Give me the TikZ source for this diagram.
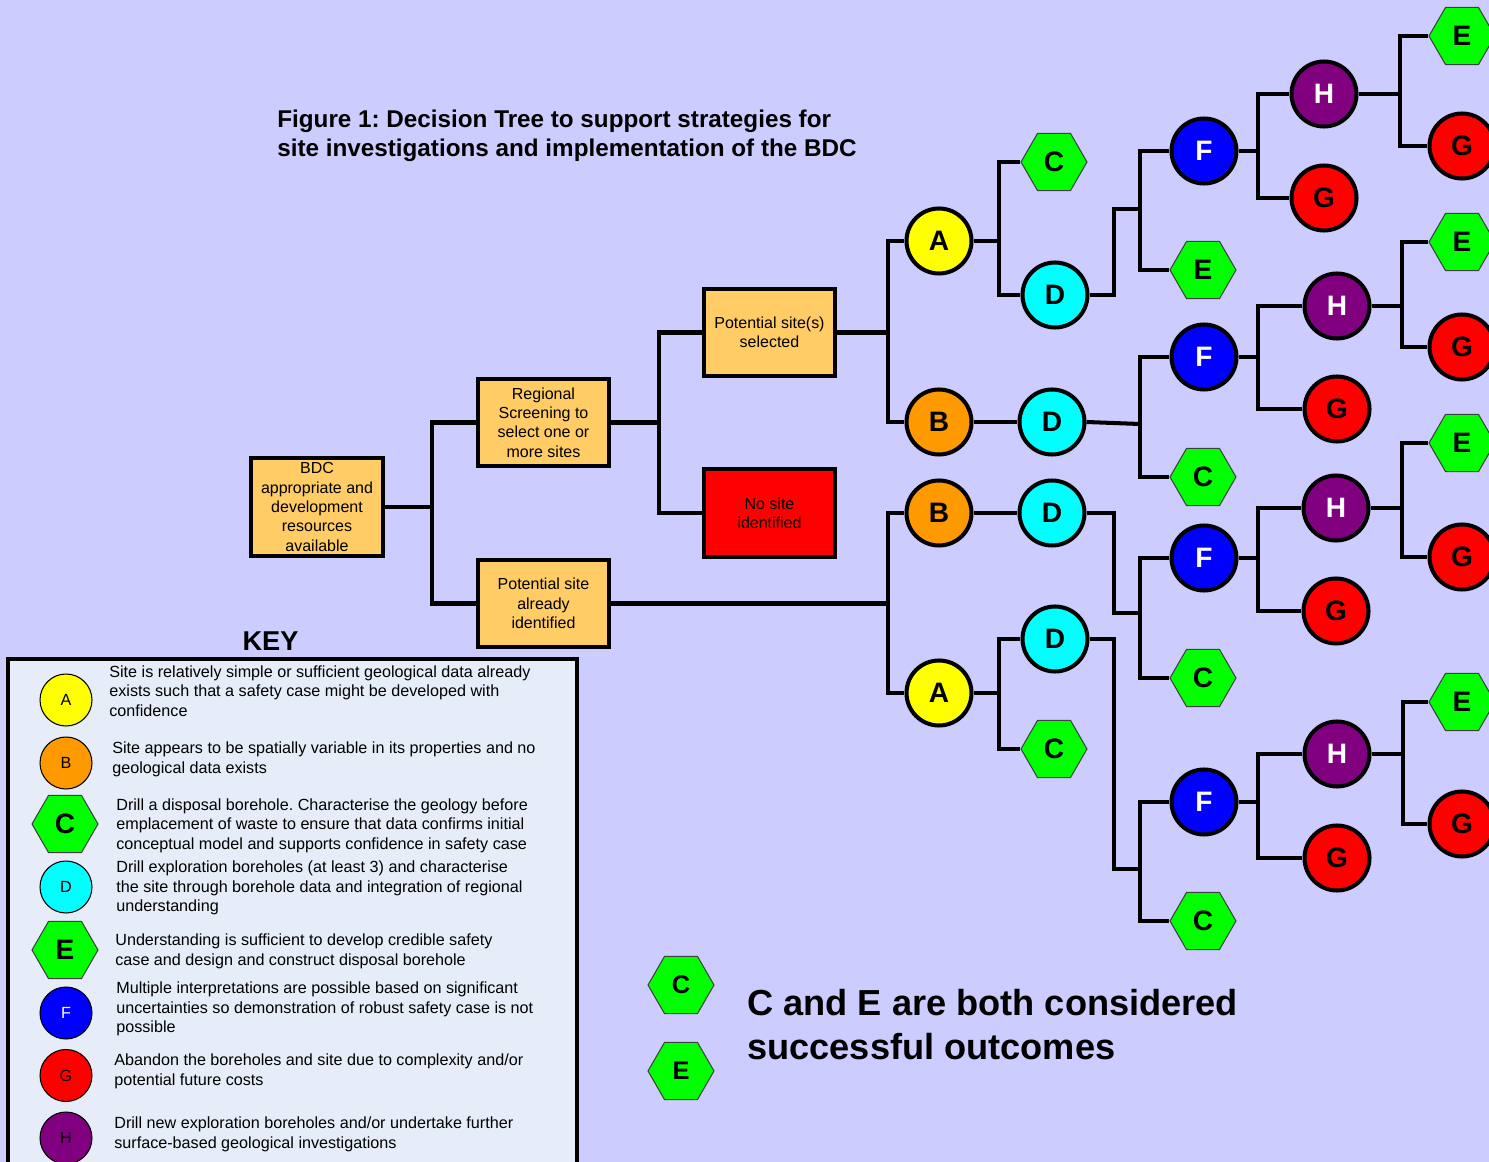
\documentclass[tikz,border=0pt]{standalone}
\usepackage{fontspec}
\setmainfont{Liberation Sans}
\usetikzlibrary{shapes.geometric}
\frenchspacing

\definecolor{bgc}{HTML}{CCCCFF}
\definecolor{boxc}{HTML}{FFCC66}
\definecolor{keyc}{HTML}{E6ECF8}
\definecolor{cA}{HTML}{FFFF00}
\definecolor{cB}{HTML}{FF9900}
\definecolor{cD}{HTML}{00FFFF}
\definecolor{cF}{HTML}{0000FF}
\definecolor{cG}{HTML}{FF0000}
\definecolor{cH}{HTML}{800080}
\definecolor{cHex}{HTML}{00FF00}

% parent, upper child, lower child, horizontal run to the bar
\newcommand\fork[4]{%
  \draw[conn] (#1.east) -- ++(#4,0) coordinate (#1j);
  \draw[conn] (#2.west) -| (#1j) |- (#3.west);}

\begin{document}
\begin{tikzpicture}[x=0.02cm,y=-0.02cm,
  conn/.style={line width=2.3pt, draw=black},
  stage/.style={draw, line width=2.3pt, fill=boxc, minimum width=2.62cm,
    minimum height=1.74cm, align=center, inner sep=1pt,
    font=\fontsize{9.1}{11}\selectfont},
  tnode/.style={circle, draw, line width=2.3pt, minimum size=1.3cm, inner sep=0pt,
    font=\bfseries\fontsize{16}{16}\selectfont},
  hexn/.style={regular polygon, regular polygon sides=6, draw=black!75,
    line width=0.6pt, fill=cHex, minimum size=1.32cm, inner sep=0pt,
    font=\bfseries\fontsize{16}{16}\selectfont},
  kdot/.style={circle, draw, line width=0.6pt, minimum size=1.04cm, inner sep=0pt,
    font=\fontsize{9.2}{10}\selectfont},
  ktext/.style={anchor=west, align=left, inner sep=0pt,
    font=\fontsize{9.2}{11.1}\selectfont}]

% canvas
\clip (0,0) rectangle (1489,1162);
\fill[bgc] (0,0) rectangle (1489,1162);

% title
\node[anchor=west, align=left, inner sep=0pt,
  font=\bfseries\fontsize{13.8}{16.4}\selectfont] (title) at (277,136)
  {Figure 1: Decision Tree to support strategies for\\
   site investigations and implementation of the BDC};

% first stages
\node[stage, minimum height=1.96cm, minimum width=2.64cm] (bdc) at (317,507)
  {BDC\\appropriate and\\development\\resources\\available};
\node[stage] (reg) at (543.5,422.5) {Regional\\Screening to\\select one or\\more sites};
\node[stage] (alr) at (543.5,603.5) {Potential site\\already\\identified};
\node[stage] (sel) at (769.5,332.5) {Potential site(s)\\selected};
\node[stage, fill=cG, minimum height=1.76cm] (nos) at (769.5,513) {No site\\identified};

% site classification
\node[tnode, fill=cA] (a1) at (939,241) {A};
\node[tnode, fill=cB] (b1) at (939,422) {B};
\node[tnode, fill=cB] (b2) at (939,513) {B};
\node[tnode, fill=cA] (a2) at (939,693) {A};

% second level
\node[hexn] (c1) at (1054,162) {C};
\node[tnode, fill=cD] (d1) at (1055,295) {D};
\node[tnode, fill=cD] (d2) at (1052,422) {D};
\node[tnode, fill=cD] (d3) at (1052,513) {D};
\node[tnode, fill=cD] (d4) at (1055,639) {D};
\node[hexn] (c4) at (1054,749) {C};

% third level
\node[tnode, fill=cF, text=white] (f1) at (1204,151) {F};
\node[hexn] (e1) at (1203,270) {E};
\node[tnode, fill=cF, text=white] (f2) at (1204,357) {F};
\node[hexn] (c2) at (1203,477) {C};
\node[tnode, fill=cF, text=white] (f3) at (1204,558) {F};
\node[hexn] (c3) at (1203,678) {C};
\node[tnode, fill=cF, text=white] (f4) at (1204,802) {F};
\node[hexn] (c5) at (1203,921) {C};

% fourth level
\node[tnode, fill=cH, text=white] (h1) at (1324,94) {H};
\node[tnode, fill=cG] (g1) at (1324,198) {G};
\node[tnode, fill=cH, text=white] (h2) at (1337,306) {H};
\node[tnode, fill=cG] (g2) at (1337,409) {G};
\node[tnode, fill=cH, text=white] (h3) at (1336,508) {H};
\node[tnode, fill=cG] (g3) at (1336,611) {G};
\node[tnode, fill=cH, text=white] (h4) at (1337,754) {H};
\node[tnode, fill=cG] (g4) at (1337,858) {G};

% fifth level
\node[hexn] (e11) at (1462,36) {E};
\node[tnode, fill=cG] (g11) at (1462,146) {G};
\node[hexn] (e21) at (1462,242) {E};
\node[tnode, fill=cG] (g21) at (1462,347) {G};
\node[hexn] (e31) at (1462,443) {E};
\node[tnode, fill=cG] (g31) at (1462,557) {G};
\node[hexn] (e41) at (1462,702) {E};
\node[tnode, fill=cG] (g41) at (1462,824) {G};

% branches
\fork{bdc}{reg}{alr}{47}
\fork{reg}{sel}{nos}{48}
\fork{sel}{a1}{b1}{51}
\fork{alr}{b2}{a2}{277}
\fork{a1}{c1}{d1}{25.5}
\fork{a2}{d4}{c4}{25.5}
\draw[conn] (b1.east) -- (d2.west);
\draw[conn] (b2.east) -- (d3.west);

\coordinate (d1j) at (1140,209);
\draw[conn] (d1.east) -- ++(24.5,0) |- (d1j);
\draw[conn] (f1.west) -| (d1j) |- (e1.west);
\coordinate (d2j) at (1140,424);
\draw[conn] (d2.east) -- (d2j);
\draw[conn] (f2.west) -| (d2j) |- (c2.west);
\coordinate (d3j) at (1140,613);
\draw[conn] (d3.east) -- ++(27.5,0) |- (d3j);
\draw[conn] (f3.west) -| (d3j) |- (c3.west);
\coordinate (d4j) at (1140,869);
\draw[conn] (d4.east) -- ++(24.5,0) |- (d4j);
\draw[conn] (f4.west) -| (d4j) |- (c5.west);

\fork{f1}{h1}{g1}{19.5}
\fork{f2}{h2}{g2}{19.5}
\fork{f3}{h3}{g3}{19.5}
\fork{f4}{h4}{g4}{19.5}
\fork{h1}{e11}{g11}{41.5}
\fork{h2}{e21}{g21}{30.5}
\fork{h3}{e31}{g31}{31.5}
\fork{h4}{e41}{g41}{31.5}

% outcome note
\node[hexn, font=\bfseries\fontsize{14.5}{14.5}\selectfont] (nc) at (681,985) {C};
\node[hexn, font=\bfseries\fontsize{14.5}{14.5}\selectfont] (ne) at (681,1071) {E};
\node[anchor=west, align=left, inner sep=0pt,
  font=\bfseries\fontsize{20.6}{25}\selectfont] (note) at (747,1025)
  {C and E are both considered\\successful outcomes};

% key
\node[anchor=base, inner sep=0pt, font=\bfseries\fontsize{15.5}{15.5}\selectfont]
  (keyt) at (270.5,650) {KEY};
\draw[line width=2.3pt, fill=keyc] (8,659) rectangle (577,1180);

\node[kdot, fill=cA] (ka) at (66,700) {A};
\node[ktext] (kat) at (109,691) {Site is relatively simple or sufficient geological data already\\exists such that a safety case might be developed with\\confidence};
\node[kdot, fill=cB] (kb) at (66,763) {B};
\node[ktext] (kbt) at (112,759.5) {Site appears to be spatially variable in its properties and no\\geological data exists};
\node[hexn] (kc) at (65,824) {C};
\node[ktext] (kct) at (116,825.5) {Drill a disposal borehole. Characterise the geology before\\emplacement of waste to ensure that data confirms initial\\conceptual model and supports confidence in safety case};
\node[kdot, fill=cD] (kd) at (66,887) {D};
\node[ktext] (kdt) at (116,888) {Drill exploration boreholes (at least 3) and characterise\\the site through borehole data and integration of regional\\understanding};
\node[hexn] (ke) at (65,950) {E};
\node[ktext] (ket) at (115,951.5) {Understanding is sufficient to develop credible safety\\case and design and construct disposal borehole};
\node[kdot, fill=cF, text=white] (kf) at (66,1013) {F};
\node[ktext] (kft) at (116,1009) {Multiple interpretations are possible based on significant\\uncertainties so demonstration of robust safety case is not\\possible};
\node[kdot, fill=cG] (kg) at (66,1075.5) {G};
\node[ktext] (kgt) at (114,1071.5) {Abandon the boreholes and site due to complexity and/or\\potential future costs};
\node[kdot, fill=cH] (kh) at (66,1138) {H};
\node[ktext] (kht) at (114,1134.5) {Drill new exploration boreholes and/or undertake further\\surface-based geological investigations};

\end{tikzpicture}
\end{document}
